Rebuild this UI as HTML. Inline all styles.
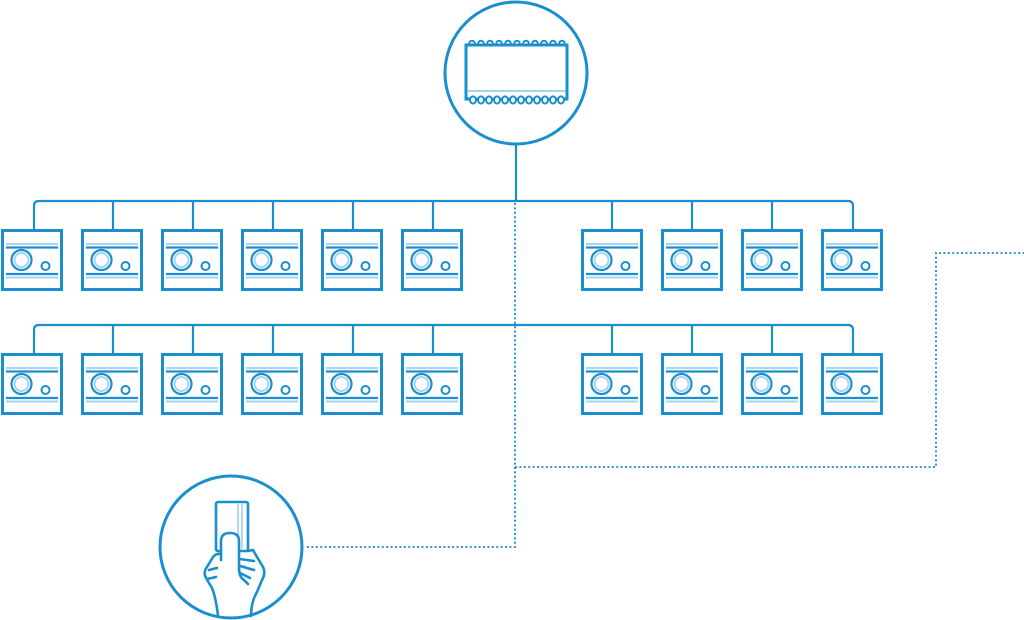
<!DOCTYPE html>
<html><head><style>html,body{margin:0;padding:0;background:#fff;width:1024px;height:620px;overflow:hidden}</style></head>
<body>
<svg width="1024" height="620" viewBox="0 0 1024 620" xmlns="http://www.w3.org/2000/svg">
<defs>
<g id="cam">
  <rect x="1.5" y="1.5" width="59" height="59" fill="#fff" stroke="#1a8fd0" stroke-width="3"/>
  <line x1="5" y1="15" x2="57" y2="15" stroke="#a9d3ee" stroke-width="2"/>
  <line x1="5" y1="18.5" x2="57" y2="18.5" stroke="#1a8fd0" stroke-width="2.2"/>
  <circle cx="20.5" cy="31" r="10" fill="none" stroke="#1a8fd0" stroke-width="2.2"/>
  <circle cx="20.5" cy="31" r="7" fill="none" stroke="#a9d3ee" stroke-width="2"/>
  <circle cx="44.5" cy="37" r="4" fill="none" stroke="#1a8fd0" stroke-width="2"/>
  <line x1="5" y1="45" x2="57" y2="45" stroke="#1a8fd0" stroke-width="2.2"/>
  <line x1="5" y1="48.5" x2="57" y2="48.5" stroke="#a9d3ee" stroke-width="2"/>
</g>
</defs>
<g fill="none" stroke="#1a8fd0" stroke-width="2.2">
  <g stroke-dasharray="2 2.4" stroke-width="2" stroke="#2d98d8">
    <path d="M515 203 V547 H305"/>
    <path d="M515 467 H936 V253 H1024"/>
  </g>
  <line x1="516" y1="145" x2="516" y2="201"/>
  <path d="M34 229 V206 Q34 201 39 201 H848 Q853 201 853 206 V229"/>
  <path d="M34 353 V330 Q34 325 39 325 H848 Q853 325 853 330 V353"/>
  <g>
    <line x1="113" y1="201" x2="113" y2="229"/><line x1="193" y1="201" x2="193" y2="229"/>
    <line x1="273" y1="201" x2="273" y2="229"/><line x1="353" y1="201" x2="353" y2="229"/>
    <line x1="433" y1="201" x2="433" y2="229"/><line x1="612" y1="201" x2="612" y2="229"/>
    <line x1="692" y1="201" x2="692" y2="229"/><line x1="772" y1="201" x2="772" y2="229"/>
    <line x1="113" y1="325" x2="113" y2="353"/><line x1="193" y1="325" x2="193" y2="353"/>
    <line x1="273" y1="325" x2="273" y2="353"/><line x1="353" y1="325" x2="353" y2="353"/>
    <line x1="433" y1="325" x2="433" y2="353"/><line x1="612" y1="325" x2="612" y2="353"/>
    <line x1="692" y1="325" x2="692" y2="353"/><line x1="772" y1="325" x2="772" y2="353"/>
  </g>
</g>
<g>
  <use href="#cam" x="1" y="229"/><use href="#cam" x="81" y="229"/><use href="#cam" x="161" y="229"/>
  <use href="#cam" x="241" y="229"/><use href="#cam" x="321" y="229"/><use href="#cam" x="401" y="229"/>
  <use href="#cam" x="581" y="229"/><use href="#cam" x="661" y="229"/><use href="#cam" x="741" y="229"/><use href="#cam" x="821" y="229"/>
  <use href="#cam" x="1" y="353"/><use href="#cam" x="81" y="353"/><use href="#cam" x="161" y="353"/>
  <use href="#cam" x="241" y="353"/><use href="#cam" x="321" y="353"/><use href="#cam" x="401" y="353"/>
  <use href="#cam" x="581" y="353"/><use href="#cam" x="661" y="353"/><use href="#cam" x="741" y="353"/><use href="#cam" x="821" y="353"/>
</g>
<circle cx="516" cy="73" r="71" fill="#fff" stroke="#1a8fd0" stroke-width="3"/>
<g fill="#fff" stroke="#1a8fd0" stroke-width="2">
  <circle cx="472" cy="43.5" r="2.8"/><circle cx="481" cy="43.5" r="2.8"/><circle cx="490" cy="43.5" r="2.8"/><circle cx="499" cy="43.5" r="2.8"/><circle cx="508" cy="43.5" r="2.8"/><circle cx="517" cy="43.5" r="2.8"/><circle cx="526" cy="43.5" r="2.8"/><circle cx="535" cy="43.5" r="2.8"/><circle cx="544" cy="43.5" r="2.8"/><circle cx="553" cy="43.5" r="2.8"/><circle cx="562" cy="43.5" r="2.8"/>
</g>
<rect x="466" y="45" width="101" height="54" fill="#fff" stroke="#1a8fd0" stroke-width="3"/>
<line x1="468" y1="91" x2="565" y2="91" stroke="#a9d3ee" stroke-width="2"/>
<g fill="#fff" stroke="#1a8fd0" stroke-width="2">
  <ellipse cx="473" cy="100" rx="3" ry="3.6"/><ellipse cx="481" cy="100" rx="3" ry="3.6"/><ellipse cx="489" cy="100" rx="3" ry="3.6"/><ellipse cx="497" cy="100" rx="3" ry="3.6"/><ellipse cx="505" cy="100" rx="3" ry="3.6"/><ellipse cx="513" cy="100" rx="3" ry="3.6"/><ellipse cx="521" cy="100" rx="3" ry="3.6"/><ellipse cx="529" cy="100" rx="3" ry="3.6"/><ellipse cx="537" cy="100" rx="3" ry="3.6"/><ellipse cx="545" cy="100" rx="3" ry="3.6"/><ellipse cx="553" cy="100" rx="3" ry="3.6"/><ellipse cx="561" cy="100" rx="3" ry="3.6"/>
</g>
<circle cx="231" cy="547" r="71" fill="#fff" stroke="#1a8fd0" stroke-width="3"/>
<g fill="none" stroke="#1a8fd0" stroke-width="2.6" stroke-linejoin="round" stroke-linecap="round">
  <rect x="216" y="502" width="32" height="49" rx="2" fill="#fff"/>
  <line x1="238" y1="505" x2="238" y2="548" stroke="#a9d3ee" stroke-width="1.8"/>
  <line x1="242" y1="505" x2="242" y2="548" stroke="#a9d3ee" stroke-width="1.8"/>
  <path d="M218 616 Q216 598 212 588 L206 578 Q203 572 207 567 L213 557 Q216 553 222 554" fill="#fff"/>
  <path d="M221 560 V541 Q221 533 230 533 Q239 533 239 541 V568 Q239 577 244 580 L248 584" fill="#fff"/>
  <path d="M248 551 L253 550 Q257 557 263 567 Q266 573 262 580 L257 592 Q251 602 251 616"/>
  <path d="M240 559 L254 561 M240 566 L254 570 M240 573 L250 578"/>
  <path d="M207 579 L216 577 M209 570 L217 568"/>
</g>
</svg>
</body></html>
